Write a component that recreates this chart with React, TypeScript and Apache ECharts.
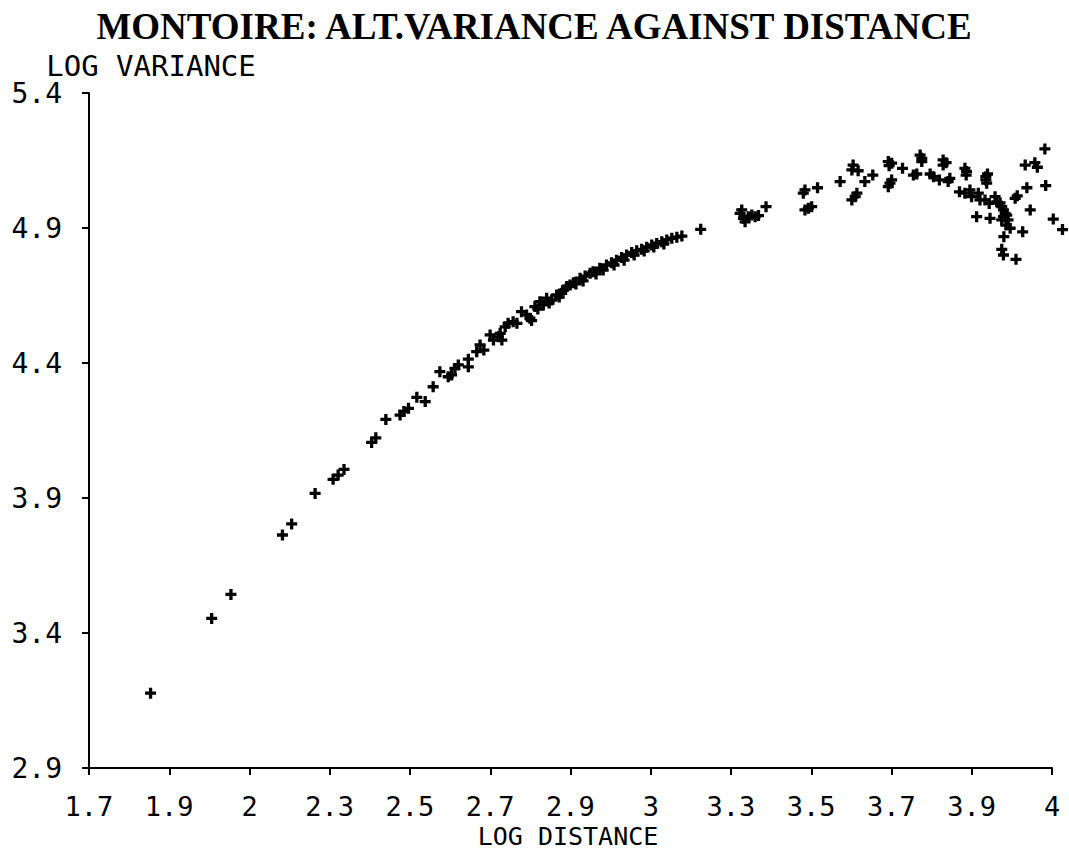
import React, { useEffect, useRef } from "react";
import * as echarts from "echarts";

const TITLE = "MONTOIRE: ALT.VARIANCE AGAINST DISTANCE";
const X_NAME = "LOG DISTANCE";
const Y_NAME = "LOG VARIANCE";

const X_MIN = 1.7;
const X_MAX = 4.0;
const Y_MIN = 2.9;
const Y_MAX = 5.4;

const X_TICK_LABELS = ["1.7", "1.9", "2", "2.3", "2.5", "2.7", "2.9", "3", "3.3", "3.5", "3.7", "3.9", "4"];
const Y_TICK_VALUES = [2.9, 3.4, 3.9, 4.4, 4.9, 5.4];

const LOG_DISTANCE = [
  1.847, 1.993, 2.039, 2.162, 2.184, 2.240, 2.283, 2.295, 2.309, 2.375,
  2.385, 2.409, 2.443, 2.452, 2.463, 2.483, 2.503, 2.522, 2.538, 2.558,
  2.566, 2.574, 2.582, 2.606, 2.606, 2.626, 2.634, 2.643, 2.658, 2.666,
  2.678, 2.686, 2.682, 2.694, 2.701, 2.713, 2.722, 2.733, 2.745, 2.753,
  2.757, 2.765, 2.772, 2.777, 2.785, 2.793, 2.799, 2.805, 2.817, 2.823,
  2.829, 2.833, 2.841, 2.849, 2.857, 2.863, 2.873, 2.880, 2.885, 2.897,
  2.904, 2.911, 2.920, 2.928, 2.936, 2.948, 2.954, 2.960, 2.972, 2.978,
  2.984, 2.996, 3.002, 3.008, 3.020, 3.026, 3.032, 3.044, 3.049, 3.056,
  3.068, 3.073, 3.080, 3.092, 3.104, 3.116, 3.161,
  3.255, 3.259, 3.263, 3.267, 3.275, 3.283, 3.291, 3.299, 3.317,
  3.406, 3.410, 3.440, 3.410, 3.418, 3.426, 3.494,
  3.522, 3.525, 3.537, 3.553, 3.572, 3.522, 3.530, 3.534,
  3.609, 3.617, 3.611, 3.609, 3.613, 3.617, 3.643,
  3.669, 3.677, 3.685, 3.689, 3.689, 3.709, 3.717, 3.731,
  3.740, 3.740, 3.747, 3.756, 3.752,
  3.779, 3.792, 3.804, 3.808, 3.824, 3.828, 3.792, 3.796, 3.795,
  3.842, 3.842, 3.844, 3.846, 3.840, 3.850, 3.864, 3.868, 3.820, 3.852,
  3.880, 3.884, 3.888, 3.884, 3.880, 3.892, 3.900, 3.885, 3.930,
  3.880, 3.884, 3.914, 3.912, 3.917, 3.940, 3.948, 3.936, 3.959, 3.965,
  3.983, 3.985, 4.003, 4.025, 3.890, 3.895, 3.876
];

const LOG_VARIANCE = [
  3.177, 3.454, 3.543, 3.763, 3.804, 3.917, 3.969, 3.985, 4.006, 4.106,
  4.123, 4.191, 4.207, 4.220, 4.232, 4.273, 4.257, 4.312, 4.368, 4.349,
  4.356, 4.380, 4.393, 4.414, 4.386, 4.442, 4.467, 4.448, 4.504, 4.485,
  4.497, 4.485, 4.510, 4.534, 4.547, 4.553, 4.547, 4.590, 4.578, 4.566,
  4.557, 4.609, 4.600, 4.627, 4.615, 4.640, 4.622, 4.633, 4.652, 4.644,
  4.658, 4.670, 4.683, 4.689, 4.697, 4.693, 4.714, 4.704, 4.722, 4.732,
  4.738, 4.730, 4.751, 4.744, 4.763, 4.771, 4.763, 4.781, 4.791, 4.781,
  4.800, 4.809, 4.800, 4.816, 4.821, 4.815, 4.829, 4.837, 4.830, 4.843,
  4.849, 4.841, 4.856, 4.862, 4.866, 4.870, 4.895,
  4.954, 4.967, 4.936, 4.923, 4.942, 4.948, 4.942, 4.946, 4.979,
  5.029, 5.041, 5.049, 4.967, 4.973, 4.979, 5.072,
  5.115, 5.133, 5.112, 5.072, 5.096, 5.004, 5.016, 5.029,
  5.146, 5.140, 5.131, 5.053, 5.066, 5.078, 5.121,
  5.096, 5.100, 5.170, 5.158, 5.146, 5.100, 5.090, 5.078,
  5.152, 5.133, 5.142, 5.084, 5.072,
  5.034, 5.029, 5.041, 5.016, 5.029, 5.004, 5.121, 5.109, 5.096,
  5.090, 5.078, 5.066, 5.100, 5.004, 4.991, 5.016, 4.997, 4.942, 4.936,
  4.979, 4.967, 4.954, 4.942, 4.930, 4.948, 4.899, 4.868, 4.886,
  4.821, 4.800, 4.784, 5.010, 5.019, 5.049, 4.967, 5.133, 5.142, 5.125,
  5.193, 5.057, 4.933, 4.894, 4.911, 4.930, 4.993
];

const PLUS = "path://M3.5,0H6.5V3.5H10V6.5H6.5V10H3.5V6.5H0V3.5H3.5Z";
const MONO = "'DejaVu Sans Mono', monospace";

export default function App() {
  const ref = useRef<HTMLDivElement>(null);

  useEffect(() => {
    if (!ref.current) return;
    const chart = echarts.init(ref.current, null, { renderer: "svg" });
    const n = X_TICK_LABELS.length;
    const xTickValues = X_TICK_LABELS.map((_, i) => X_MIN + (i * (X_MAX - X_MIN)) / (n - 1));
    const data = LOG_DISTANCE.map((x, i) => [x, LOG_VARIANCE[i]]);

    chart.setOption({
      animation: false,
      backgroundColor: "#ffffff",
      grid: { left: 89, right: 17, top: 93, bottom: 81, containLabel: false },
      xAxis: {
        type: "value",
        min: X_MIN,
        max: X_MAX,
        position: "bottom",
        axisLine: { show: true, lineStyle: { color: "#000", width: 2 } },
        axisTick: {
          show: true,
          length: 7,
          inside: false,
          lineStyle: { color: "#000", width: 2 },
          customValues: xTickValues,
        },
        axisLabel: {
          show: true,
          customValues: xTickValues,
          margin: 25,
          color: "#000",
          fontFamily: MONO,
          fontSize: 27,
          formatter: (v: number) => {
            let best = 0;
            xTickValues.forEach((t, i) => {
              if (Math.abs(t - v) < Math.abs(xTickValues[best] - v)) best = i;
            });
            return X_TICK_LABELS[best];
          },
        },
        splitLine: { show: false },
      },
      yAxis: {
        type: "value",
        min: Y_MIN,
        max: Y_MAX,
        position: "left",
        axisLine: { show: true, lineStyle: { color: "#000", width: 2 } },
        axisTick: {
          show: true,
          length: 7,
          inside: false,
          lineStyle: { color: "#000", width: 2 },
          customValues: Y_TICK_VALUES,
        },
        axisLabel: {
          show: true,
          customValues: Y_TICK_VALUES,
          margin: 27,
          color: "#000",
          fontFamily: MONO,
          fontSize: 28,
          formatter: (v: number) => v.toFixed(1),
        },
        splitLine: { show: false },
      },
      graphic: [
        {
          type: "text",
          x: 534,
          y: 26,
          style: {
            text: TITLE,
            fill: "#000",
            font: "bold 37px 'Liberation Serif', serif",
            textAlign: "center",
            textVerticalAlign: "middle",
          },
        },
        {
          type: "text",
          x: 151,
          y: 66,
          style: {
            text: Y_NAME,
            fill: "#000",
            font: "29px 'DejaVu Sans Mono', monospace",
            textAlign: "center",
            textVerticalAlign: "middle",
          },
        },
        {
          type: "text",
          x: 568,
          y: 836,
          style: {
            text: X_NAME,
            fill: "#000",
            font: "25px 'DejaVu Sans Mono', monospace",
            textAlign: "center",
            textVerticalAlign: "middle",
          },
        },
      ],
      series: [
        {
          type: "scatter",
          data,
          symbol: PLUS,
          symbolSize: 11,
          clip: false,
          itemStyle: { color: "#000", opacity: 1 },
          emphasis: { disabled: true },
        },
      ],
    });

    return () => chart.dispose();
  }, []);

  return (
    <div
      ref={ref}
      style={{ position: "fixed", left: 0, top: 0, width: 1069, height: 849, background: "#fff" }}
    />
  );
}
